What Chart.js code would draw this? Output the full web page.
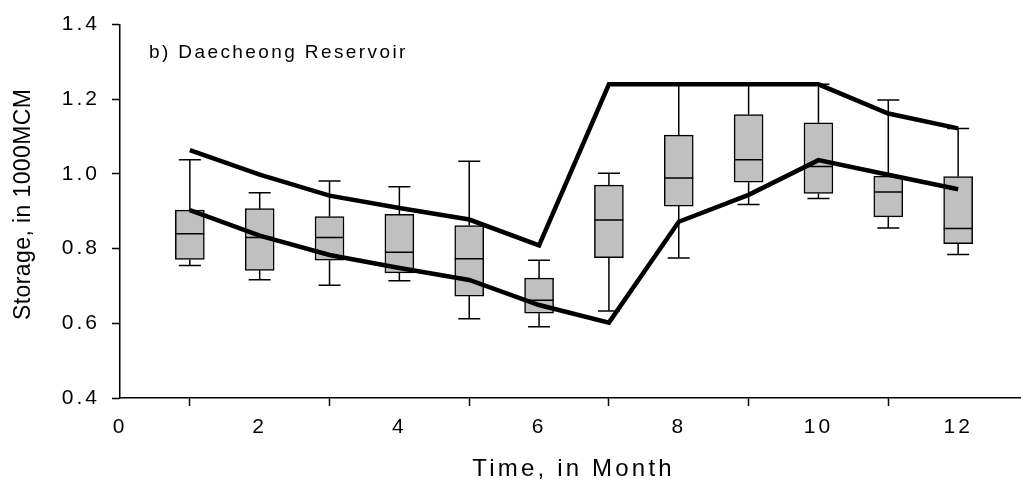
<!DOCTYPE html>
<html><head><meta charset="utf-8">
<script src="https://cdn.jsdelivr.net/npm/chart.js@4.4.0/dist/chart.umd.min.js"></script>
<style>html,body{margin:0;padding:0;background:#fff;} #wrap{width:1021px;height:484px;}</style>
</head><body><div id="wrap"><canvas id="c" width="1021" height="484"></canvas></div>
<script>
const months = [1,2,3,4,5,6,7,8,9,10,11,12];
const whiskerHigh = [1.038, 0.950, 0.981, 0.966, 1.034, 0.769, 1.002, 1.24, 1.24, 1.24, 1.198, 1.122];
const q3 = [0.903, 0.907, 0.886, 0.892, 0.862, 0.721, 0.970, 1.104, 1.159, 1.137, 0.994, 0.993];
const median = [0.840, 0.830, 0.830, 0.790, 0.773, 0.662, 0.877, 0.989, 1.038, 1.020, 0.952, 0.854];
const q1 = [0.771, 0.742, 0.769, 0.735, 0.673, 0.627, 0.776, 0.914, 0.978, 0.948, 0.885, 0.813];
const whiskerLow = [0.755, 0.717, 0.702, 0.714, 0.612, 0.591, 0.633, 0.775, 0.918, 0.934, 0.855, 0.784];
const upperLine = [1.064, 0.998, 0.942, 0.909, 0.878, 0.809, 1.24, 1.24, 1.24, 1.24, 1.162, 1.122];
const lowerLine = [0.903, 0.835, 0.783, 0.748, 0.716, 0.649, 0.602, 0.872, 0.944, 1.037, 0.998, 0.959];
const xTicks = [0, 2, 4, 6, 8, 10, 12];
const yTicks = [0.4, 0.6, 0.8, 1.0, 1.2, 1.4];
const annotationText = 'b) Daecheong Reservoir';
const xTitle = 'Time, in Month';
const yTitle = 'Storage, in 1000MCM';

const FONT = '"Liberation Sans", Arial, sans-serif';
const BOX_INDEX = 2;

const spacingPlugin = {
  id: 'spacing',
  beforeUpdate(chart) { chart.ctx.letterSpacing = '3px'; },
  beforeDraw(chart) { chart.ctx.letterSpacing = '3px'; }
};

const boxExtras = {
  id: 'boxExtras',
  afterDatasetDraw(chart, args) {
    if (args.index !== BOX_INDEX) return;
    const ctx = chart.ctx, x = chart.scales.x, y = chart.scales.y;
    ctx.save();
    ctx.strokeStyle = '#000';
    ctx.lineWidth = 1.5;
    const capHalf = 11, boxHalf = 14.5;
    months.forEach((m, i) => {
      const px = x.getPixelForValue(m);
      const yHi = y.getPixelForValue(whiskerHigh[i]);
      const yQ3 = y.getPixelForValue(q3[i]);
      const yQ1 = y.getPixelForValue(q1[i]);
      const yLo = y.getPixelForValue(whiskerLow[i]);
      const yMed = y.getPixelForValue(median[i]);
      ctx.beginPath();
      ctx.moveTo(px, yQ3); ctx.lineTo(px, yHi);
      ctx.moveTo(px - capHalf, yHi); ctx.lineTo(px + capHalf, yHi);
      ctx.moveTo(px, yQ1); ctx.lineTo(px, yLo);
      ctx.moveTo(px - capHalf, yLo); ctx.lineTo(px + capHalf, yLo);
      ctx.moveTo(px - boxHalf, yMed); ctx.lineTo(px + boxHalf, yMed);
      ctx.stroke();
    });
    ctx.restore();
  }
};

const textPlugin = {
  id: 'texts',
  afterDraw(chart) {
    const ctx = chart.ctx, a = chart.chartArea;
    ctx.save();
    ctx.fillStyle = '#000';
    // annotation
    ctx.letterSpacing = '2.4px';
    ctx.font = '19px ' + FONT;
    ctx.textAlign = 'left';
    ctx.textBaseline = 'alphabetic';
    ctx.fillText(annotationText, a.left + 29, 58);
    // x title
    ctx.letterSpacing = '3.2px';
    ctx.font = '24px ' + FONT;
    ctx.textAlign = 'center';
    ctx.fillText(xTitle, (a.left + a.right) / 2 + 3, a.bottom + 78);
    // y title
    ctx.letterSpacing = '0.4px';
    ctx.font = '23px ' + FONT;
    ctx.translate(24, (a.top + a.bottom) / 2 - 7);
    ctx.rotate(-Math.PI / 2);
    ctx.textBaseline = 'middle';
    ctx.fillText(yTitle, 0, 0);
    ctx.restore();
  }
};

const axisGrid = { display: true, drawOnChartArea: false, drawTicks: true, tickLength: 8, tickColor: '#000', tickWidth: 1.5 };
const axisBorder = { display: true, color: '#000', width: 1.5 };

new Chart(document.getElementById('c'), {
  type: 'bar',
  data: {
    datasets: [
      {
        type: 'line', label: 'upper', order: 0,
        data: months.map((m, i) => ({ x: m, y: upperLine[i] })),
        borderColor: '#000', borderWidth: 4.5, pointRadius: 0, tension: 0, fill: false
      },
      {
        type: 'line', label: 'lower', order: 0,
        data: months.map((m, i) => ({ x: m, y: lowerLine[i] })),
        borderColor: '#000', borderWidth: 4.5, pointRadius: 0, tension: 0, fill: false
      },
      {
        type: 'bar', label: 'box', order: 1,
        data: months.map((m, i) => ({ x: m, y: [q1[i], q3[i]] })),
        backgroundColor: '#c0c0c0', borderColor: '#000', borderWidth: 1.5,
        borderSkipped: false, barThickness: 29
      }
    ]
  },
  options: {
    responsive: false,
    animation: false,
    events: [],
    layout: { padding: { top: 15, right: 0, left: 0, bottom: 0 } },
    plugins: { legend: { display: false }, tooltip: { enabled: false }, title: { display: false } },
    scales: {
      x: {
        type: 'linear', min: 0, max: 12.9, offset: false,
        afterBuildTicks: s => { s.ticks = xTicks.map(v => ({ value: v })); },
        afterFit: s => { s.height = 86; },
        grid: axisGrid, border: axisBorder,
        ticks: { color: '#000', font: { family: FONT, size: 21 }, padding: 9, maxRotation: 0, autoSkip: false,
          callback: v => String(v) }
      },
      y: {
        type: 'linear', min: 0.4, max: 1.4,
        afterBuildTicks: s => { s.ticks = yTicks.map(v => ({ value: v })); },
        afterFit: s => { s.width = 120; },
        grid: axisGrid, border: axisBorder,
        ticks: { color: '#000', font: { family: FONT, size: 21 }, padding: 12,
          callback: v => Number(v).toFixed(1) }
      }
    }
  },
  plugins: [spacingPlugin, boxExtras, textPlugin]
});
</script>
</body></html>
